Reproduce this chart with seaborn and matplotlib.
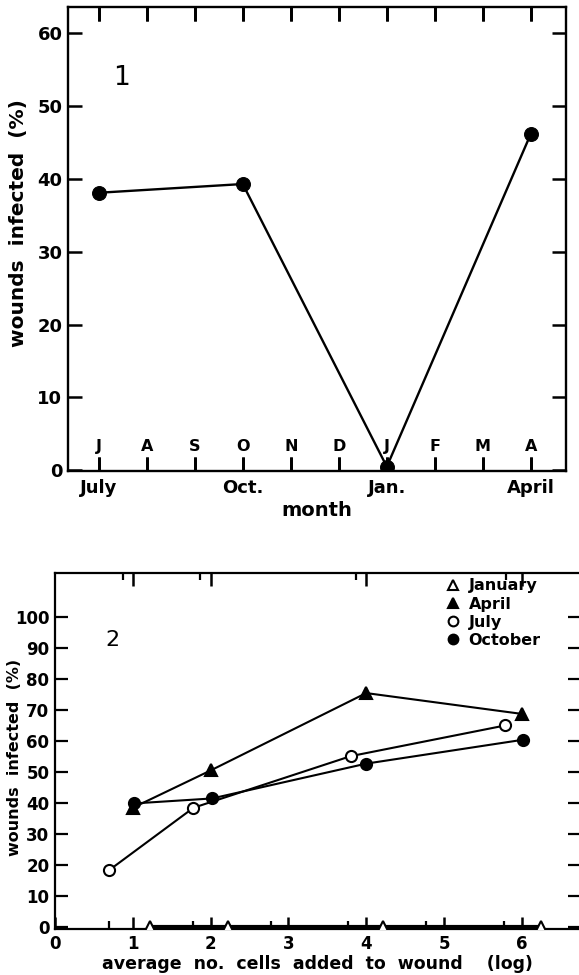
import matplotlib
matplotlib.use("Agg")
import matplotlib.pyplot as plt
import matplotlib.transforms as mtransforms
from matplotlib.lines import Line2D
import seaborn as sns
import pandas as pd

# Panel 1: infection by month of wounding (July .. April)
month_letters = ["J", "A", "S", "O", "N", "D", "J", "F", "M", "A"]
month_names = ["July", "Oct.", "Jan.", "April"]
month_index = [0, 3, 6, 9]
infected_by_month = [38.1, 39.3, 0.5, 46.2]

# Panel 2: infection vs log number of cells added, per season
jan_x = [1.22, 2.23, 4.22, 6.25]
jan_y = [0, 0, 0, 0]
apr_x = [1.0, 2.0, 4.0, 6.0]
apr_y = [38.5, 50.5, 75.4, 68.7]
jul_x = [0.70, 1.78, 3.80, 5.79]
jul_y = [18.5, 38.5, 55.1, 65.0]
oct_x = [1.02, 2.02, 4.0, 6.02]
oct_y = [39.9, 41.5, 52.7, 60.4]

sns.set_style("ticks")
plt.rcParams["font.family"] = ["DejaVu Sans"]
plt.rcParams["font.weight"] = "bold"
plt.rcParams["axes.axisbelow"] = False
for key in ["text.color", "axes.labelcolor", "xtick.color", "ytick.color",
            "axes.edgecolor"]:
    plt.rcParams[key] = "black"

fig = plt.figure(figsize=(5.79, 9.75), dpi=100)

# ---------------- panel 1 ----------------
ax1 = fig.add_axes([0.1174, 0.5169, 0.860, 0.4759])
ax1.set_axisbelow(False)
sns.lineplot(x=month_index, y=infected_by_month, ax=ax1, color="black",
             linewidth=1.7, marker="o", markersize=10, markeredgecolor="black")
ax1.set_xlim(-0.64, 9.73)
ax1.set_ylim(-0.1, 63.6)
ax1.set_yticks(range(0, 61, 10))
ax1.set_xticks(range(len(month_letters)))
ax1.set_xticklabels([])
ax1.tick_params(axis="x", direction="in", length=10, width=2.0,
                top=True, bottom=True)
fig.canvas.draw()
ax1.tick_params(axis="y", direction="in", length=10, width=1.8, labelsize=13,
                right=True, pad=4)
# month tick marks along the bottom and top edges
edge = mtransforms.blended_transform_factory(ax1.transData, ax1.transAxes)
month_pos = list(range(len(month_letters)))
ax1.plot(month_pos, [0] * len(month_pos), transform=edge, linestyle="none",
         marker=2, markersize=10, markeredgewidth=2, color="black",
         clip_on=False)
ax1.plot(month_pos, [1] * len(month_pos), transform=edge, linestyle="none",
         marker=3, markersize=10, markeredgewidth=2, color="black",
         clip_on=False)
for i, letter in enumerate(month_letters):
    ax1.text(i, 3.2, letter, ha="center", va="center", fontsize=11.5,
             fontweight="bold")
# season names under the axis
for i, name in zip(month_index, month_names):
    ax1.text(i, -0.018, name, transform=edge, ha="center", va="top",
             fontsize=13, fontweight="bold")
ax1.set_xlabel("month", fontsize=14, fontweight="bold")
ax1.xaxis.set_label_coords(0.5, -0.065)
ax1.xaxis.label.set_va("top")
ax1.set_ylabel("wounds  infected  (%)", fontsize=14.5, fontweight="bold")
ax1.yaxis.set_label_coords(-0.08, 0.534)
ax1.text(0.108, 0.847, "1", transform=ax1.transAxes, fontsize=19,
         fontweight="normal", ha="center", va="center")
for sp in ax1.spines.values():
    sp.set_linewidth(1.7)

# ---------------- panel 2 ----------------
ax2 = fig.add_axes([0.095, 0.0472, 0.907, 0.365])
ax2.set_axisbelow(False)
series = [
    ("January", jan_x, jan_y, "^", "white", 3.0),
    ("April", apr_x, apr_y, "^", "black", 1.5),
    ("July", jul_x, jul_y, "o", "white", 1.5),
    ("October", oct_x, oct_y, "o", "black", 1.5),
]
handles = []
for name, xs, ys, mk, fc, lw in series:
    df = pd.DataFrame({"x": xs, "y": ys})
    sns.lineplot(data=df, x="x", y="y", ax=ax2, color="black", linewidth=lw,
                 marker=mk, markersize=8, markerfacecolor=fc,
                 markeredgecolor="black", markeredgewidth=1.5, zorder=3)
    handles.append(Line2D([], [], linestyle="none", marker=mk, markersize=7,
                          markerfacecolor=fc, markeredgecolor="black",
                          markeredgewidth=1.5, label=name))
ax2.set_xlim(0, 6.75)
ax2.set_ylim(-0.5, 114)
ax2.set_yticks(range(0, 101, 10))
ax2.set_xticks(range(0, 7))
ax2.set_xticks([0.7, 1.77, 2.77, 3.77, 4.77, 5.77], minor=True)
ax2.tick_params(axis="x", which="major", direction="in", length=9, width=1.8,
                labelsize=12, pad=4)
ax2.tick_params(axis="x", which="minor", direction="in", length=6, width=1.6)
ax2.tick_params(axis="y", direction="in", length=9, width=1.6, labelsize=12,
                right=True, pad=4)
top2 = ax2.secondary_xaxis("top")
top2.set_xticks([1, 2, 4, 6])
top2.set_xticklabels([])
top2.set_xticks([0.87, 1.87, 3.87, 5.8], minor=True)
top2.tick_params(which="major", direction="in", length=9, width=1.8)
top2.tick_params(which="minor", direction="in", length=5, width=1.6)
for sp in top2.spines.values():
    sp.set_visible(False)
ax2.set_xlabel("average  no.  cells  added  to  wound    (log)", fontsize=12.5,
               fontweight="bold", labelpad=2)
ax2.set_ylabel("wounds  infected  (%)", fontsize=11.5, fontweight="bold")
ax2.yaxis.set_label_coords(-0.063, 0.483)
ax2.text(0.11, 0.812, "2", transform=ax2.transAxes, fontsize=16,
         fontweight="normal", ha="center", va="center")
ax2.legend(handles=handles, loc="upper left", bbox_to_anchor=(0.745, 0.985),
           frameon=False, handlelength=0.8, handletextpad=0.6,
           labelspacing=0.2, borderpad=0, borderaxespad=0,
           prop={"size": 11.5, "weight": "bold"})
for sp in ax2.spines.values():
    sp.set_linewidth(1.6)

fig.canvas.draw()
fig.savefig("out.png", dpi=100)
